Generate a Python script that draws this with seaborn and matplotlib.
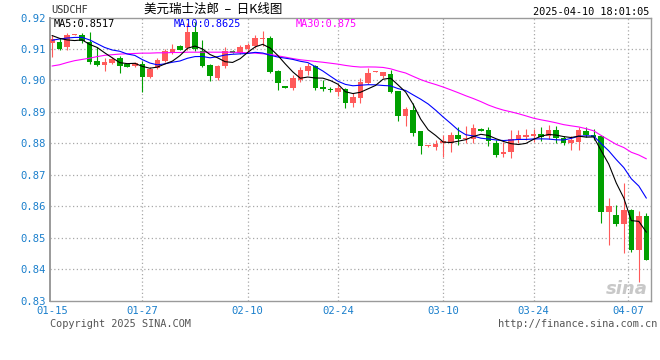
import math
import numpy as np
import pandas as pd
import matplotlib
matplotlib.use("Agg")
import matplotlib.pyplot as plt
import seaborn as sns

# ---------------- data ----------------
opens = [0.9118, 0.9123, 0.9106, 0.9145, 0.9145, 0.9122, 0.9063, 0.9050, 0.9057, 0.9070,
         0.9052, 0.9045, 0.9054, 0.9011, 0.9039, 0.9063, 0.9089, 0.9110, 0.9103, 0.9155,
         0.9095, 0.9050, 0.9009, 0.9047, 0.9095, 0.9087, 0.9099, 0.9109, 0.9131, 0.9136,
         0.9031, 0.8982, 0.8976, 0.9002, 0.9030, 0.9046, 0.8978, 0.8971, 0.8964, 0.8973,
         0.8928, 0.8945, 0.8993, 0.9027, 0.9015, 0.9020, 0.8966, 0.8888, 0.8906, 0.8838,
         0.8791, 0.8787, 0.8800, 0.8802, 0.8826, 0.8814, 0.8815, 0.8845, 0.8842, 0.8802,
         0.8765, 0.8773, 0.8810, 0.8819, 0.8825, 0.8829, 0.8823, 0.8842, 0.8816, 0.8800,
         0.8805, 0.8840, 0.8828, 0.8822, 0.8582, 0.8571, 0.8543, 0.8588, 0.8460, 0.8568]
highs = [0.9145, 0.9134, 0.9151, 0.9148, 0.9150, 0.9155, 0.9107, 0.9071, 0.9074, 0.9077,
         0.9054, 0.9058, 0.9063, 0.9042, 0.9070, 0.9100, 0.9116, 0.9112, 0.9182, 0.9187,
         0.9130, 0.9053, 0.9050, 0.9105, 0.9098, 0.9113, 0.9120, 0.9145, 0.9158, 0.9140,
         0.9033, 0.8984, 0.9017, 0.9044, 0.9056, 0.9050, 0.9001, 0.8978, 0.8989, 0.8977,
         0.8959, 0.9008, 0.9039, 0.9030, 0.9027, 0.9033, 0.8968, 0.8917, 0.8927, 0.8840,
         0.8794, 0.8810, 0.8828, 0.8835, 0.8853, 0.8855, 0.8863, 0.8848, 0.8851, 0.8810,
         0.8805, 0.8844, 0.8842, 0.8847, 0.8847, 0.8851, 0.8860, 0.8855, 0.8822, 0.8823,
         0.8853, 0.8853, 0.8847, 0.8826, 0.8625, 0.8603, 0.8675, 0.8590, 0.8584, 0.8579]
lows = [0.9075, 0.9097, 0.9096, 0.9144, 0.9120, 0.9052, 0.9047, 0.9031, 0.9053, 0.9024,
        0.9042, 0.9043, 0.8964, 0.9008, 0.9035, 0.9060, 0.9084, 0.9096, 0.9098, 0.9094,
        0.9043, 0.8999, 0.9000, 0.9040, 0.9086, 0.9083, 0.9092, 0.9103, 0.9110, 0.9025,
        0.8969, 0.8975, 0.8970, 0.8996, 0.9018, 0.8970, 0.8966, 0.8962, 0.8950, 0.8911,
        0.8916, 0.8930, 0.8990, 0.9026, 0.9007, 0.8960, 0.8872, 0.8856, 0.8823, 0.8765,
        0.8790, 0.8778, 0.8757, 0.8773, 0.8796, 0.8802, 0.8800, 0.8838, 0.8792, 0.8757,
        0.8757, 0.8755, 0.8802, 0.8810, 0.8805, 0.8808, 0.8815, 0.8800, 0.8795, 0.8778,
        0.8778, 0.8819, 0.8810, 0.8547, 0.8477, 0.8537, 0.8451, 0.8454, 0.8359, 0.8428]
closes = [0.9131, 0.9099, 0.9144, 0.9147, 0.9124, 0.9060, 0.9050, 0.9059, 0.9068, 0.9047,
          0.9044, 0.9055, 0.9011, 0.9038, 0.9065, 0.9093, 0.9101, 0.9098, 0.9155, 0.9100,
          0.9047, 0.9013, 0.9046, 0.9093, 0.9088, 0.9106, 0.9113, 0.9134, 0.9134, 0.9028,
          0.8991, 0.8977, 0.9007, 0.9033, 0.9047, 0.8976, 0.8974, 0.8969, 0.8975, 0.8927,
          0.8947, 0.8995, 0.9023, 0.9029, 0.9026, 0.8964, 0.8887, 0.8910, 0.8834, 0.8791,
          0.8793, 0.8797, 0.8806, 0.8826, 0.8813, 0.8817, 0.8848, 0.8840, 0.8808, 0.8762,
          0.8773, 0.8813, 0.8826, 0.8826, 0.8827, 0.8821, 0.8842, 0.8816, 0.8802, 0.8812,
          0.8843, 0.8826, 0.8819, 0.8582, 0.8600, 0.8543, 0.8587, 0.8460, 0.8570, 0.8428]

# moving-average values at the left edge (history before the first candle)
ma5_head = [0.9143, 0.9134, 0.9129, 0.9127]
ma10_head = [0.9128, 0.9132, 0.9135, 0.9137, 0.9137, 0.9129, 0.9117, 0.9105, 0.9097]
ma30_head = [0.9046, 0.9050, 0.9057, 0.9063, 0.9067, 0.9071, 0.9076, 0.9080, 0.9082, 0.9084,
             0.9085, 0.9086, 0.9087, 0.9087, 0.9088, 0.9088, 0.9089, 0.9089, 0.9090, 0.9090,
             0.9090, 0.9090, 0.9090, 0.9090, 0.9090, 0.9089, 0.9088, 0.9087, 0.9085]

x_tick_pos = [0, 12, 26, 38, 52, 64, 76.6]
x_tick_labels = ["01-15", "01-27", "02-10", "02-24", "03-10", "03-24", "04-07"]
y_ticks = [0.83, 0.84, 0.85, 0.86, 0.87, 0.88, 0.89, 0.90, 0.91, 0.92]

title_text = "美元瑞士法郎  –  日K线图"
symbol_text = "USDCHF"
time_text = "2025-04-10 18:01:05"

# ---------------- build frame ----------------
df = pd.DataFrame({"open": opens, "high": highs, "low": lows, "close": closes})
df["idx"] = np.arange(len(df))
ma5 = df["close"].rolling(5).mean()
ma10 = df["close"].rolling(10).mean()
ma30 = df["close"].rolling(30).mean()
ma5.iloc[:len(ma5_head)] = ma5_head
ma10.iloc[:len(ma10_head)] = ma10_head
ma30.iloc[:len(ma30_head)] = ma30_head
df["ma5"], df["ma10"], df["ma30"] = ma5, ma10, ma30

# ---------------- style ----------------
sns.set_theme(style="white")
plt.rcParams["font.family"] = ["DejaVu Sans Mono", "Noto Sans CJK SC"]

W, H = 660, 360
fig = plt.figure(figsize=(W / 100, H / 100), dpi=100)
fig.patch.set_facecolor("white")
ax_l, ax_r, ax_t, ax_b = 50, 650.5, 17.6, 300.6
ax = fig.add_axes([ax_l / W, 1 - ax_b / H, (ax_r - ax_l) / W, (ax_b - ax_t) / H])
ax.set_facecolor("white")

RED = "#ff5a5a"
GREEN = "#00a000"
BLUE_TXT = "#1a7fcc"

# grid
for yv in y_ticks[1:-1]:
    ax.axhline(yv, color="#a8a8a8", lw=0.9, ls=(0, (1, 2)), zorder=0)
for xv in x_tick_pos[1:]:
    ax.axvline(xv, color="#a8a8a8", lw=0.9, ls=(0, (1, 2)), zorder=0)

# candles
body_w = 0.74
for _, r in df.iterrows():
    up = r["close"] >= r["open"]
    c = RED if up else GREEN
    ax.vlines(r["idx"], r["low"], r["high"], color=c, lw=0.8, zorder=2)
    lo = min(r["open"], r["close"])
    h = max(abs(r["close"] - r["open"]), 0.00035)
    ax.bar(r["idx"], h, bottom=lo, width=body_w, color=c, linewidth=0, zorder=3)

# moving averages
sns.lineplot(data=df, x="idx", y="ma30", color="#ff00ff", lw=0.8, ax=ax, zorder=4)
sns.lineplot(data=df, x="idx", y="ma10", color="#0000ff", lw=0.8, ax=ax, zorder=5)
sns.lineplot(data=df, x="idx", y="ma5", color="black", lw=0.8, ax=ax, zorder=6)

ax.set_xlim(-0.27, 79.55)
ax.set_ylim(0.83, 0.92)
ax.set_xlabel("")
ax.set_ylabel("")
ax.set_yticks(y_ticks)
ax.set_yticklabels([f"{v:.2f}" for v in y_ticks])
ax.set_xticks(x_tick_pos)
ax.set_xticklabels(x_tick_labels)
ax.tick_params(axis="both", length=0, labelsize=7.6, colors=BLUE_TXT)
ax.tick_params(axis="y", pad=3)
ax.tick_params(axis="x", pad=4)
for s in ax.spines.values():
    s.set_color("#9a9a9a")
    s.set_linewidth(1.0)
ax.spines["left"].set_linewidth(1.4)


def ptext(x, y, s, **kw):
    fig.text(x / W, 1 - y / H, s, **kw)


def trunc4(v):
    s = f"{math.floor(v * 10000 + 1e-9) / 10000:.4f}"
    return s.rstrip("0").rstrip(".")


# MA legend inside plot
ptext(54, 24, f"MA5:{trunc4(df['ma5'].iloc[-1])}", color="black", fontsize=7.4, va="center", ha="left")
ptext(174, 24, f"MA10:{trunc4(df['ma10'].iloc[-1])}", color="#0000ff", fontsize=7.4, va="center", ha="left")
ptext(296, 24, f"MA30:{trunc4(df['ma30'].iloc[-1])}", color="#ff00ff", fontsize=7.4, va="center", ha="left")

# header
ptext(51, 10, symbol_text, color="#333333", fontsize=7.4, va="center", ha="left")
ptext(213, 9, title_text, color="black", fontsize=9, va="center", ha="center",
      family=["Noto Sans CJK SC", "DejaVu Sans"])
ptext(649, 12, time_text, color="black", fontsize=7.4, va="center", ha="right")

# footer
ptext(50, 324, "Copyright 2025 SINA.COM", color="#555555", fontsize=7.4, va="center", ha="left")
ptext(657, 324, "http://finance.sina.com.cn", color="#555555", fontsize=7.4, va="center", ha="right")

# watermark
ptext(648, 289, "sina", color="#c8c8c8", fontsize=13, va="center", ha="right",
      style="italic", weight="bold", family=["DejaVu Sans"])

fig.savefig("out.png", dpi=100, facecolor="white")
